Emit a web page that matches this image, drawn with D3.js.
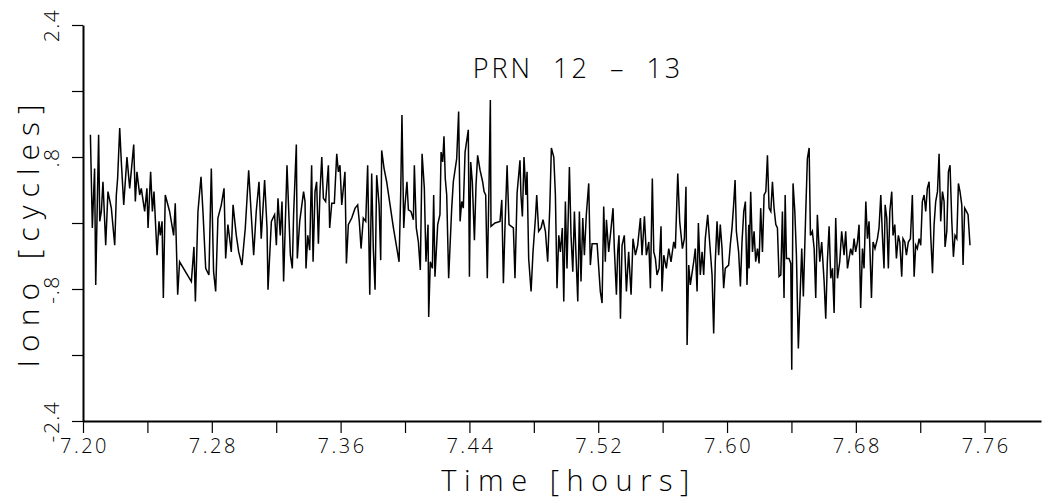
<!DOCTYPE html>
<html lang="en">
<head>
    <meta charset="UTF-8">
    <title>PRN 12 - 13</title>
    <style>
        body { margin: 0; background: #fff; }
        svg { display: block; }
        text { font-family: "Open Sans", "DejaVu Sans", sans-serif; font-weight: 300; fill: #000; }
    </style>
</head>
<body>
    <script src="https://cdnjs.cloudflare.com/ajax/libs/d3/7.8.5/d3.min.js"></script>
    <script>
        // time [hours]
        const time = [
            7.2046,7.2058,7.2072,7.2079,7.2097,7.2104,7.2114,7.2124,7.2141,7.2155,7.2176,7.2197,7.2207,7.2215,7.2228,7.2238,
            7.2253,7.2273,7.2290,7.2315,7.2325,7.2335,7.2352,7.2362,7.2383,7.2397,7.2404,7.2420,7.2431,7.2441,7.2460,7.2472,
            7.2480,7.2491,7.2499,7.2511,7.2538,7.2563,7.2573,7.2588,7.2600,7.2673,7.2689,7.2698,7.2714,7.2733,7.2745,7.2762,
            7.2782,7.2797,7.2811,7.2824,7.2838,7.2859,7.2876,7.2886,7.2900,7.2921,7.2932,7.2952,7.2967,7.2987,7.3008,7.3029,
            7.3045,7.3060,7.3076,7.3093,7.3107,7.3128,7.3143,7.3149,7.3170,7.3190,7.3201,7.3211,7.3225,7.3236,7.3246,7.3267,
            7.3288,7.3300,7.3308,7.3325,7.3331,7.3346,7.3370,
            7.3379,7.3385,7.3396,7.3408,7.3420,7.3429,7.3441,7.3451,7.3462,7.3472,7.3483,7.3493,7.3507,7.3524,7.3532,7.3545,
            7.3561,7.3576,7.3586,7.3596,7.3607,7.3617,7.3627,7.3636,7.3648,7.3669,7.3690,7.3706,7.3716,7.3727,7.3741,7.3756,
            7.3768,7.3781,7.3793,7.3803,7.3814,7.3824,7.3839,7.3849,7.3855,7.3870,7.3886,7.3928,7.3963,7.3973,7.3981,7.3992,
            7.4000,7.4012,7.4021,7.4037,7.4052,7.4058,7.4070,7.4083,7.4095,7.4106,7.4120,7.4130,7.4143,7.4147,7.4157,7.4170,
            7.4178,7.4186,7.4203,7.4217,7.4224,7.4234,7.4242,7.4250,7.4259,7.4271,7.4290,7.4300,7.4321,7.4333,7.4342,7.4352,
            7.4362,7.4373,7.4393,7.4400,7.4408,7.4418,7.4431,7.4441,7.4451,7.4466,7.4482,7.4491,7.4501,7.4511,7.4522,7.4530,
            7.4534,7.4559,7.4590,7.4601,7.4611,7.4621,7.4634,7.4646,7.4673,7.4683,7.4696,7.4714,7.4720,7.4729,7.4739,7.4751,
            7.4758,7.4768,7.4783,7.4795,7.4810,7.4818,7.4830,7.4845,7.4857,7.4872,7.4886,7.4899,7.4909,7.4924,7.4934,7.4944,
            7.4955,7.4965,7.4977,7.4986,7.4996,7.5006,7.5021,7.5031,7.5042,7.5052,7.5062,7.5073,7.5083,7.5093,7.5104,7.5114,
            7.5126,7.5141,7.5151,7.5162,7.5193,7.5213,7.5224,7.5234,7.5244,7.5251,7.5265,7.5280,7.5292,7.5300,7.5313,7.5321,
            7.5329,7.5338,7.5348,7.5362,7.5375,7.5389,7.5404,7.5416,7.5431,7.5445,7.5462,7.5472,7.5487,7.5499,7.5514,7.5524,
            7.5536,7.5545,7.5555,7.5565,7.5578,7.5590,7.5596,7.5607,7.5623,7.5638,7.5652,7.5669,7.5679,7.5694,7.5706,7.5723,
            7.5735,7.5745,7.5752,7.5762,7.5772,7.5793,7.5803,7.5814,7.5822,7.5834,7.5845,7.5855,7.5865,7.5880,7.5892,7.5907,
            7.5917,7.5927,7.5938,7.5948,7.5958,7.5969,7.5979,7.5989,7.6010,7.6021,7.6031,7.6041,7.6050,7.6058,7.6072,7.6083,
            7.6093,7.6104,7.6114,7.6124,7.6135,
            7.6137,7.6147,7.6158,7.6168,7.6178,7.6189,7.6199,7.6209,7.6220,7.6230,7.6241,7.6251,7.6261,7.6272,7.6282,7.6292,
            7.6303,7.6313,7.6323,7.6334,7.6344,7.6354,7.6361,7.6369,7.6385,7.6396,7.6402,7.6410,7.6421,7.6431,7.6443,7.6454,
            7.6464,7.6474,7.6489,7.6499,7.6510,7.6518,7.6530,7.6541,7.6551,7.6561,7.6576,7.6588,7.6603,7.6613,7.6623,7.6634,
            7.6644,7.6655,7.6665,7.6675,7.6686,7.6700,7.6712,7.6727,7.6737,7.6748,7.6758,7.6768,7.6779,7.6789,7.6799,7.6810,
            7.6820,7.6830,7.6841,7.6851,7.6862,7.6872,7.6882,7.6897,7.6907,7.6919,7.6934,7.6944,7.6955,7.6965,7.6975,7.6982,
            7.6992,7.7002,7.7011,7.7023,7.7031,7.7042,7.7052,7.7064,7.7073,7.7085,7.7093,7.7104,7.7114,7.7126,7.7139,7.7151,
            7.7162,7.7172,7.7182,7.7193,7.7203,7.7213,7.7224,7.7234,7.7244,7.7255,7.7265,7.7276,7.7286,7.7296,7.7307,7.7317,
            7.7327,7.7338,7.7348,7.7354,7.7365,7.7375,7.7385,7.7396,7.7406,7.7416,7.7427,7.7437,7.7447,7.7458,7.7466,7.7476,
            7.7487,7.7497,7.7509
        ];

        // iono [cycles]
        const iono = [
            1.07,-0.06,0.66,-0.75,1.07,0.02,0.14,0.50,-0.27,0.38,0.18,-0.27,0.34,0.54,1.15,0.74,
            0.22,0.80,0.42,0.95,0.26,0.62,0.34,0.42,0.14,0.42,-0.06,0.62,0.14,0.38,-0.39,0.02,
            -0.15,0.02,-0.91,0.34,0.14,-0.15,0.24,-0.87,-0.47,-0.71,-0.29,-0.95,0.14,0.56,0.14,-0.55,
            -0.63,0.66,-0.59,-0.83,0.06,0.22,0.42,-0.43,-0.02,-0.35,0.22,-0.15,-0.35,-0.51,-0.06,0.64,
            0.10,-0.39,0.14,0.50,-0.19,0.52,-0.06,-0.81,0.02,0.10,-0.27,0.30,-0.15,0.26,-0.71,0.70,
            -0.39,-0.55,0.10,0.95,-0.43,0.02,0.38,
            0.26,-0.55,-0.15,-0.33,0.70,-0.47,0.38,0.50,-0.25,0.38,0.80,0.30,0.26,0.70,-0.06,0.24,
            0.24,0.84,0.62,0.70,0.22,0.42,0.62,-0.49,-0.02,0.06,0.18,0.22,0.02,-0.31,0.06,0.02,
            0.70,-0.87,0.60,-0.31,-0.81,0.58,0.22,-0.45,0.88,0.66,0.50,-0.06,-0.47,0.34,1.31,-0.06,
            0.22,0.50,0.16,0.14,0.04,0.70,-0.06,-0.23,-0.57,0.84,0.42,-0.47,-0.02,-1.14,-0.47,-0.55,
            0.34,-0.65,-0.02,0.10,0.86,0.74,1.05,0.54,0.34,-0.67,0.18,0.50,0.78,1.35,0.02,0.26,
            0.18,0.86,1.13,-0.65,0.74,0.50,-0.21,0.46,0.82,0.64,0.50,0.38,0.34,-0.67,0.50,1.49,
            -0.04,0.00,0.02,0.28,-0.73,-0.04,0.70,-0.02,-0.06,-0.67,0.36,0.76,0.34,0.08,0.80,0.34,
            0.62,-0.43,-0.83,-0.35,0.06,0.34,-0.10,-0.06,0.04,-0.10,-0.47,0.18,0.91,0.80,0.34,-0.79,
            -0.15,-0.35,-0.06,-0.95,0.26,-0.55,0.68,-0.15,-0.59,0.14,-0.39,-0.95,0.14,-0.71,0.06,-0.39,
            0.10,0.48,-0.51,-0.25,-0.25,-0.83,-0.97,0.20,-0.47,0.04,-0.35,-0.06,0.18,-0.31,-0.87,-0.35,
            -0.15,-1.16,-0.27,-0.15,-0.83,-0.35,-0.87,-0.19,-0.39,-0.27,0.06,-0.39,0.08,-0.39,-0.23,-0.79,
            0.54,-0.35,-0.43,-0.63,-0.55,-0.04,-0.83,-0.39,-0.55,-0.31,-0.47,-0.23,-0.31,0.60,0.02,-0.31,
            -0.19,0.44,-1.48,-0.51,-0.75,-0.47,-0.31,-0.83,0.00,-0.63,-0.35,-0.63,-0.19,0.10,-0.23,-0.63,
            -1.34,-0.47,0.02,-0.39,-0.02,-0.31,-0.79,-0.55,-0.51,-0.25,-0.06,0.22,0.52,-0.10,-0.35,-0.77,
            -0.23,0.14,0.26,-0.75,-0.02,
            -0.55,0.38,-0.35,-0.10,-0.47,-0.31,-0.49,0.18,-0.35,0.34,0.38,0.82,0.18,0.14,0.50,0.18,
            -0.02,-0.06,-0.65,-0.63,0.14,-0.91,0.34,-0.43,-0.43,-0.49,-1.78,0.48,0.14,-0.39,-1.52,-0.87,
            -0.31,-0.89,0.14,0.78,0.91,-0.15,-0.10,-0.31,-0.91,0.10,-0.47,-0.23,-0.71,-1.16,-0.47,-0.04,
            -0.67,-0.55,-1.09,0.06,-0.67,-0.47,-0.10,-0.39,-0.10,-0.55,-0.43,-0.31,-0.39,-0.19,-0.35,-0.23,
            -0.02,-1.03,-0.31,-0.55,0.26,-0.19,0.02,-0.91,-0.23,-0.31,-0.19,-0.06,0.34,-0.15,-0.55,0.22,
            0.06,-0.55,0.14,0.38,-0.15,-0.02,-0.43,-0.15,-0.23,-0.65,-0.19,-0.23,-0.39,-0.23,-0.19,0.34,
            -0.65,-0.27,-0.31,-0.19,-0.27,0.26,0.34,0.14,0.42,0.50,-0.15,-0.61,-0.02,0.26,0.38,0.84,
            0.02,0.38,0.26,-0.29,-0.10,0.62,0.70,0.02,-0.41,-0.15,-0.19,0.48,0.38,0.22,-0.51,0.18,
            0.14,0.10,-0.27
        ];

        const xTicks = [7.20,7.24,7.28,7.32,7.36,7.40,7.44,7.48,7.52,7.56,7.60,7.64,7.68,7.72,7.76];
        const xTickLabels = ['7.20','','7.28','','7.36','','7.44','','7.52','','7.60','','7.68','','7.76'];
        const yTicks = [-2.4,-1.6,-0.8,0,0.8,1.6,2.4];
        const yTickLabels = ['-2.4','','-.8','','.8','','2.4'];

        const title = 'PRN  12  \u2013  13';
        const xTitle = 'Time [hours]';
        const yTitle = 'Iono [cycles]';

        const width = 1051, height = 503;
        const margin = {top: 25, left: 83, right: 10, bottom: 82};

        const svg = d3.select('body').append('svg')
            .attr('width', width)
            .attr('height', height);

        const xScale = d3.scaleLinear()
            .domain([7.20, 7.795])
            .range([margin.left, 1041]);

        const yScale = d3.scaleLinear()
            .domain([-2.4, 2.4])
            .range([height - margin.bottom, margin.top]);

        // x axis
        const xAxis = d3.axisBottom(xScale)
            .tickValues(xTicks)
            .tickSizeInner(12)
            .tickSizeOuter(0)
            .tickPadding(6)
            .tickFormat((d, i) => xTickLabels[i]);

        const gx = svg.append('g')
            .attr('transform', `translate(0, ${yScale(-2.4)})`)
            .call(xAxis);
        gx.select('.domain').attr('stroke', '#000').attr('stroke-width', 2);
        gx.selectAll('.tick line').attr('stroke', '#000').attr('stroke-width', 1.2);
        gx.selectAll('.tick text')
            .attr('font-size', 20)
            .attr('letter-spacing', 2.5)
            .attr('dx', 1)
            .attr('font-family', null);

        // y axis
        const yAxis = d3.axisLeft(yScale)
            .tickValues(yTicks)
            .tickSizeInner(11)
            .tickSizeOuter(0)
            .tickFormat((d, i) => yTickLabels[i]);

        const gy = svg.append('g')
            .attr('transform', `translate(${margin.left}, 0)`)
            .call(yAxis);
        gy.select('.domain').attr('stroke', '#000').attr('stroke-width', 2);
        gy.selectAll('.tick line').attr('stroke', '#000').attr('stroke-width', 1.2);
        gy.selectAll('.tick text')
            .attr('font-size', 21)
            .attr('letter-spacing', 1.5)
            .attr('font-family', null)
            .attr('text-anchor', 'middle')
            .attr('transform', 'rotate(-90)')
            .attr('x', 0)
            .attr('y', -24)
            .attr('dy', 0);

        // series
        const series = time.map((t, i) => ({t: t, v: iono[i]}));

        const line = d3.line()
            .x(d => xScale(d.t))
            .y(d => yScale(d.v));

        svg.append('path')
            .datum(series)
            .attr('fill', 'none')
            .attr('stroke', '#000')
            .attr('stroke-width', 1.5)
            .attr('stroke-linejoin', 'miter')
            .attr('d', line);

        // titles
        svg.append('text')
            .attr('x', 578)
            .attr('y', 78)
            .attr('text-anchor', 'middle')
            .attr('font-size', 27)
            .attr('letter-spacing', 3)
            .attr('xml:space', 'preserve')
            .style('white-space', 'pre')
            .text(title);

        svg.append('text')
            .attr('x', 569)
            .attr('y', 491)
            .attr('text-anchor', 'middle')
            .attr('font-size', 29)
            .attr('letter-spacing', 7.5)
            .text(xTitle);

        svg.append('text')
            .attr('transform', 'translate(39, 232) rotate(-90)')
            .attr('text-anchor', 'middle')
            .attr('font-size', 30)
            .attr('letter-spacing', 8)
            .text(yTitle);
    </script>
</body>
</html>
